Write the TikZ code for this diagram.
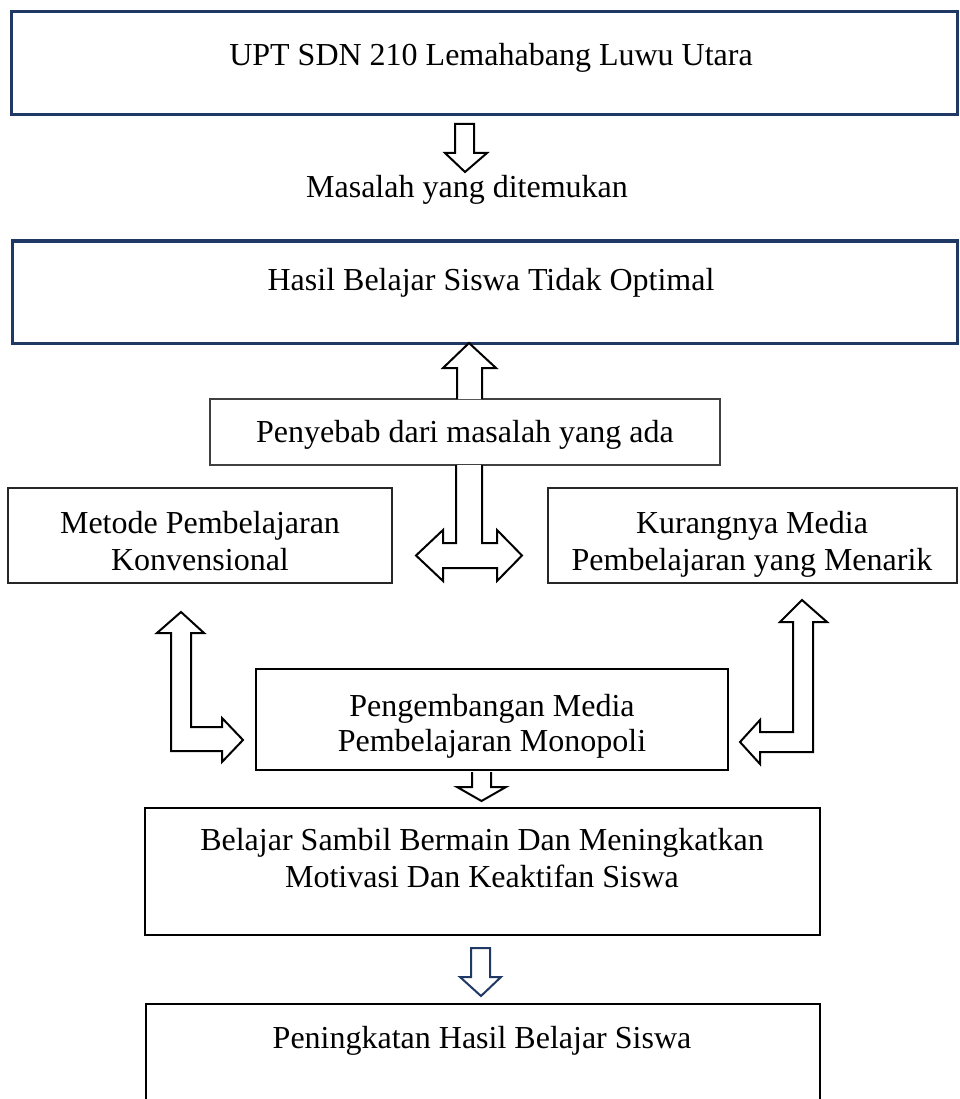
\documentclass[tikz,border=0pt]{standalone}
\usepackage{fontspec}
\setmainfont{Liberation Serif}
\definecolor{navy}{RGB}{31,56,100}
\begin{document}
\begin{tikzpicture}[x=1pt,y=-1pt,
  txt/.style={font=\fontsize{32}{37}\selectfont, inner sep=0pt, anchor=base, align=center},
  navybox/.style={draw=navy, line width=3pt},
  plainbox/.style={draw=black, line width=2pt},
  blockarrow/.style={draw=black, line width=2pt, fill=white, line join=miter},
  navyarrow/.style={draw=navy, line width=2pt, fill=white, line join=miter}]
\useasboundingbox (0,0) rectangle (959,1099);

% boxes
\draw[navybox] (11,12) rectangle (957,115);
\node[txt] (t1) at (491,66) {UPT SDN 210 Lemahabang Luwu Utara};

\node[txt] (t2) at (467,198) {Masalah yang ditemukan};

\draw[navybox] (12,241) rectangle (957,343);
\node[txt] (t3) at (491,290) {Hasil Belajar Siswa Tidak Optimal};

\draw[draw=black!75, line width=1.5pt] (210,399) rectangle (720,465);
\node[txt] (t4) at (465,442) {Penyebab dari masalah yang ada};

\draw[draw=black!85, line width=1.5pt] (8,488) rectangle (392,583);
\node[txt] (t5) at (200,533) {Metode Pembelajaran};
\node[txt] (t5b) at (200,570) {Konvensional};

\draw[draw=black!85, line width=1.5pt] (548,488) rectangle (957,583);
\node[txt] (t6) at (752,533) {Kurangnya Media};
\node[txt] (t6b) at (752,570) {Pembelajaran yang Menarik};

\draw[plainbox] (256,669) rectangle (728,770);
\node[txt] (t7) at (492,716) {Pengembangan Media};
\node[txt] (t7b) at (492,751) {Pembelajaran Monopoli};

\draw[plainbox, line width=2.5pt] (145,808) rectangle (820,935);
\node[txt] (t8) at (482,850) {Belajar Sambil Bermain Dan Meningkatkan};
\node[txt] (t8b) at (482,887) {Motivasi Dan Keaktifan Siswa};

\draw[plainbox, line width=2.5pt] (146,1110) -- (146,1004) -- (820,1004) -- (820,1110);
\node[txt] (t9) at (482,1048) {Peningkatan Hasil Belajar Siswa};

% block arrows
\draw[blockarrow] (455,124) -- (474,124) -- (474,153) -- (487,153) -- (465,172) -- (445,153) -- (455,153) -- cycle;

\draw[blockarrow] (457,399) -- (457,368) -- (443,368) -- (469,343) -- (496,368) -- (482,368) -- (482,399);

\draw[blockarrow] (456,465) -- (456,543) -- (443,543) -- (443,530) -- (416,555.5) -- (443,581) -- (443,568)
  -- (497,568) -- (497,581) -- (522,555.5) -- (497,530) -- (497,543) -- (482,543) -- (482,465);

\draw[blockarrow] (181,612) -- (204,633) -- (191,633) -- (191,727) -- (222,727) -- (222,718) -- (243,740)
  -- (222,762) -- (222,751) -- (171,751) -- (171,633) -- (157,633) -- cycle;

\draw[blockarrow] (802,600) -- (827,622) -- (813,622) -- (813,752) -- (760,752) -- (760,764) -- (740,742)
  -- (760,720) -- (760,732) -- (793,732) -- (793,622) -- (780,622) -- cycle;

\draw[blockarrow] (472,772) -- (472,787) -- (457,787) -- (481.5,801) -- (506,787) -- (491,787) -- (491,772);

\draw[navyarrow] (471,948) -- (490,948) -- (490,977) -- (501,977) -- (481,996) -- (460,977) -- (471,977) -- cycle;
\end{tikzpicture}
\end{document}
